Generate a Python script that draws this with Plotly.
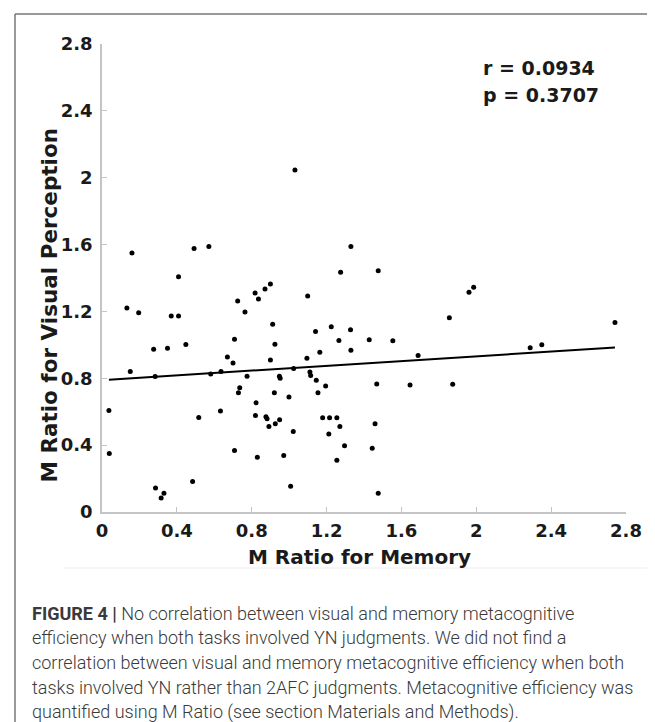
import plotly.graph_objects as go

# ---- data ----
memory_mratio = [
    1.275, 0.409, 0.133, 0.196, 0.370, 0.409, 0.276, 0.350, 0.448, 0.151,
    0.284, 0.581, 0.636, 0.670, 0.700, 0.708, 0.725, 0.764, 0.818, 0.836,
    0.871, 0.900, 0.912, 0.924, 0.900, 0.775, 0.736, 0.729, 0.948, 0.952,
    1.024, 0.921, 0.999, 0.823, 0.820, 0.876, 0.882, 0.892, 0.926, 0.949,
    1.022, 0.971, 0.830, 0.708, 0.633, 0.517, 0.037, 0.039, 0.484, 0.286,
    0.331, 0.316, 1.008, 1.099, 1.141, 1.164, 1.095, 1.111, 1.115, 1.145,
    1.195, 1.154, 1.179, 1.216, 1.212, 1.225, 1.266, 1.328, 1.330, 1.255,
    1.271, 1.296, 1.255,
    0.160, 0.492, 0.571, 1.031, 1.330,
    1.476, 1.961, 1.986, 1.856, 2.741, 1.428, 1.554, 1.689, 2.288, 2.350,
    1.468, 1.646, 1.874, 1.459, 1.444, 1.476,
]
visual_mratio = [
    1.434, 1.408, 1.220, 1.192, 1.172, 1.172, 0.974, 0.980, 1.002, 0.840,
    0.810, 0.826, 0.840, 0.928, 0.892, 1.034, 1.262, 1.196, 1.310, 1.274,
    1.334, 1.364, 1.124, 1.004, 0.910, 0.812, 0.744, 0.714, 0.812, 0.800,
    0.858, 0.714, 0.688, 0.654, 0.578, 0.570, 0.558, 0.512, 0.528, 0.552,
    0.482, 0.338, 0.328, 0.368, 0.604, 0.566, 0.608, 0.350, 0.182, 0.144,
    0.112, 0.084, 0.154, 1.292, 1.080, 0.956, 0.920, 0.838, 0.816, 0.788,
    0.754, 0.714, 0.564, 0.564, 0.466, 1.108, 1.026, 1.090, 0.968, 0.564,
    0.512, 0.396, 0.310,
    1.550, 1.576, 1.588, 2.046, 1.588,
    1.444, 1.314, 1.344, 1.162, 1.134, 1.030, 1.024, 0.936, 0.982, 1.000,
    0.766, 0.760, 0.764, 0.528, 0.382, 0.112,
]
fit_slope = 0.0711
fit_intercept = 0.789
tick_values = [0, 0.4, 0.8, 1.2, 1.6, 2.0, 2.4, 2.8]
tick_labels = ["0", "0.4", "0.8", "1.2", "1.6", "2", "2.4", "2.8"]
stats_lines = ["r = 0.0934", "p = 0.3707"]
x_title = "M Ratio for Memory"
y_title = "M Ratio for Visual Perception"
caption_lines = [
    "<b>FIGURE 4 |</b> No correlation between visual and memory metacognitive",
    "efficiency when both tasks involved YN judgments. We did not find a",
    "correlation between visual and memory metacognitive efficiency when both",
    "tasks involved YN rather than 2AFC judgments. Metacognitive efficiency was",
    "quantified using M Ratio (see section Materials and Methods).",
]

# ---- layout geometry (pixels) ----
W, H = 655, 722
L, R, T, B = 94, 37, 36, 218
PW, PH = W - L - R, H - T - B


def px(xp):
    return (xp - L) / PW


def py(yp):
    return (H - B - yp) / PH


fit_x = [min(memory_mratio), max(memory_mratio)]
fit_y = [fit_intercept + fit_slope * v for v in fit_x]

fig = go.Figure()
fig.add_trace(go.Scatter(
    x=memory_mratio, y=visual_mratio, mode="markers",
    marker=dict(color="#000000", size=5), showlegend=False, cliponaxis=False,
))
fig.add_trace(go.Scatter(
    x=fit_x, y=fit_y, mode="lines",
    line=dict(color="#000000", width=2), showlegend=False,
))

bold = dict(family="DejaVu Sans", size=18, color="#1a1a1a", weight="bold")
axis_common = dict(
    range=[0, 2.8], tickmode="array", tickvals=tick_values, ticktext=tick_labels,
    ticks="inside", ticklen=5, tickcolor="#c4c4c4", tickwidth=1.2,
    showline=True, linecolor="#c4c4c4", linewidth=1.5,
    showgrid=False, zeroline=False, mirror=False, tickfont=bold,
)
fig.update_xaxes(**axis_common, ticklabelstandoff=2)
fig.update_yaxes(**axis_common, ticklabelstandoff=4)

ann = []
for i, s in enumerate(stats_lines):
    ann.append(dict(x=px(473), y=py(60 + 27 * i), xref="paper", yref="paper",
                    text=s, showarrow=False, xanchor="left", yanchor="middle",
                    font=dict(family="DejaVu Sans", size=19, color="#1a1a1a", weight="bold")))
ann.append(dict(x=px(351.5), y=py(549), xref="paper", yref="paper", text=x_title,
                showarrow=False, xanchor="center", yanchor="middle",
                font=dict(family="DejaVu Sans", size=20, color="#1a1a1a", weight="bold")))
ann.append(dict(x=px(41), y=py(297.5), xref="paper", yref="paper", text=y_title,
                showarrow=False, xanchor="center", yanchor="middle", textangle=-90,
                font=dict(family="DejaVu Sans", size=21.5, color="#1a1a1a", weight="bold")))
for i, s in enumerate(caption_lines):
    ann.append(dict(x=px(22), y=py(605 + 24.8 * i), xref="paper", yref="paper", text=s,
                    showarrow=False, xanchor="left", yanchor="middle",
                    font=dict(family="Roboto", size=18, color="#3a3a3a", weight=300)))

shapes = [
    dict(type="line", xref="paper", yref="paper", x0=px(7), x1=px(W + 5), y0=py(6), y1=py(6),
         line=dict(color="#777777", width=1.5)),
    dict(type="line", xref="paper", yref="paper", x0=px(7), x1=px(7), y0=py(6), y1=py(H + 5),
         line=dict(color="#777777", width=1.5)),
    dict(type="line", xref="paper", yref="paper", x0=px(55), x1=px(640), y0=py(560), y1=py(560),
         line=dict(color="#ececec", width=1)),
]

fig.update_layout(
    width=W, height=H, margin=dict(l=L, r=R, t=T, b=B),
    paper_bgcolor="#ffffff", plot_bgcolor="#ffffff",
    annotations=ann, shapes=shapes, showlegend=False,
)
fig.write_html("out.html")
